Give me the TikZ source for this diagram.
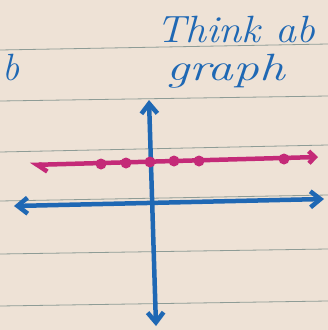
\documentclass[tikz,border=0pt]{standalone}
\usepackage{xcolor}
\usepackage{tikz}
\usetikzlibrary{arrows.meta,positioning}

\definecolor{paper}{HTML}{EEE2D6}
\definecolor{rule}{HTML}{8E9C96}
\definecolor{ink}{HTML}{1F68B4}
\definecolor{pinkink}{HTML}{C42A78}

\begin{document}
\begin{tikzpicture}[
    x=1pt, y=-1pt,
    ruled/.style={draw=rule, line width=0.8pt},
    axis/.style={draw=ink, line width=4.5pt, line cap=round},
    numline/.style={draw=pinkink, line width=4.5pt, line cap=round},
    dot/.style={circle, fill=pinkink, inner sep=0pt, minimum size=11pt},
    hand/.style={text=ink, font=\fontsize{38}{40}\selectfont\itshape, inner sep=0pt}
]

% Paper
\fill[paper] (0,0) rectangle (328,330);
\useasboundingbox (0,0) rectangle (328,330);

% Ruled lines
\draw[ruled] (0,50) -- (328,44);
\draw[ruled] (0,101) -- (328,96);
\draw[ruled] (0,152) -- (328,145);
\draw[ruled] (0,201) -- (328,195);
\draw[ruled] (0,254) -- (328,249);
\draw[ruled] (0,306) -- (328,301);

% Text
\node[hand, anchor=base west] (think) at (156,42) {\scalebox{1.1}[1]{Think ab}};
\node[hand, anchor=base west] (graph) at (166,80) {\scalebox{1.35}[1]{graph}};
\node[hand, anchor=base west] (b) at (2,80) {b};

% Axes
\coordinate (ytop) at (149,100);
\coordinate (ybot) at (156,326);
\coordinate (xleft) at (14,206);
\coordinate (xright) at (324,199);
\draw[axis, {Straight Barb[length=10pt,width=16pt]}-{Straight Barb[length=10pt,width=16pt]}] (ybot) -- (ytop);
\draw[axis, {Straight Barb[length=10pt,width=16pt]}-{Straight Barb[length=10pt,width=16pt]}] (xleft) -- (xright);

% Number line
\coordinate (nleft) at (30,165);
\coordinate (nright) at (318,157);
\draw[numline, {Straight Barb[left, length=10pt,width=14pt]}-{Straight Barb[length=6pt,width=12pt]}] (nleft) -- (nright);

% Points
\node[dot] (p1) at (101,164) {};
\node[dot] (p2) at (126,163) {};
\node[dot] (p3) at (150,162) {};
\node[dot] (p4) at (174,161) {};
\node[dot] (p5) at (199,161) {};
\node[dot] (p6) at (284,159) {};

\end{tikzpicture}
\end{document}
